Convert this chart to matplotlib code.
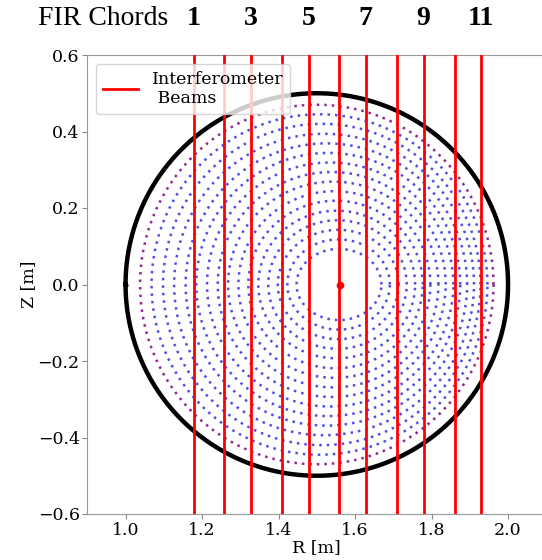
import numpy as np
import matplotlib.pyplot as plt
from matplotlib.transforms import blended_transform_factory

# chord positions [m] (11 FIR chords)
chord_R = [1.179, 1.257, 1.328, 1.410, 1.479, 1.559, 1.628, 1.710, 1.779, 1.861, 1.930]
chord_labels = ['1', '3', '5', '7', '9', '11']   # shown above every other chord

# vessel boundary (circle)
wall_R0, wall_Z0, wall_a = 1.50, 0.0, 0.50

# magnetic axis
axis_R, axis_Z = 1.56, 0.0

# flux surfaces: centre R, half width, half height (innermost -> outermost)
surf_R0 = [1.558, 1.557, 1.556, 1.554, 1.552, 1.549, 1.546, 1.543,
           1.539, 1.535, 1.530, 1.525, 1.519, 1.513, 1.507, 1.500]
surf_a = [0.111, 0.134, 0.158, 0.181, 0.205, 0.228, 0.251, 0.275,
          0.298, 0.322, 0.345, 0.368, 0.392, 0.415, 0.439, 0.462]
surf_b = [0.093, 0.118, 0.143, 0.168, 0.193, 0.219, 0.244, 0.269,
          0.294, 0.319, 0.344, 0.369, 0.394, 0.420, 0.445, 0.470]

plt.rcParams['font.family'] = 'DejaVu Serif'

fig = plt.figure(figsize=(5.42, 5.60), dpi=100)
ax = fig.add_axes([87.3 / 542, 46 / 560, 459 / 542, 459 / 560])

th = np.linspace(0, 2 * np.pi, 400)

# flux surfaces
for i in range(len(surf_R0)):
    col = 'purple' if i == len(surf_R0) - 1 else '#3030e0'
    ax.plot(surf_R0[i] + surf_a[i] * np.cos(th), surf_b[i] * np.sin(th),
            color=col, lw=1.8, ls=(0, (1, 2.0)), alpha=0.85, zorder=2)

# wall
ax.plot(wall_R0 + wall_a * np.cos(th + np.pi), wall_Z0 + wall_a * np.sin(th + np.pi),
        color='k', lw=3.2, zorder=3)
ax.plot(wall_R0 - wall_a, wall_Z0, 'k.', ms=4, zorder=3)

# chords
for i, r in enumerate(chord_R):
    ax.axvline(r, color='red', lw=2.0, zorder=4,
               label='Interferometer\n Beams' if i == 0 else None)

ax.plot(axis_R, axis_Z, 'o', color='red', ms=4.5, zorder=5)

ax.set_xlim(0.9, 2.1)
ax.set_ylim(-0.6, 0.6)
ax.set_xticks([1.0, 1.2, 1.4, 1.6, 1.8, 2.0])
ax.set_yticks([-0.6, -0.4, -0.2, 0.0, 0.2, 0.4, 0.6])
ax.tick_params(labelsize=12.5, color='#888888', length=3.5, pad=2)
for s in ax.spines.values():
    s.set_color('#999999')
ax.set_xlabel('R [m]', fontsize=12.5, labelpad=0)
ax.set_ylabel('Z [m]', fontsize=12.5, labelpad=0)

ax.legend(loc='upper left', fontsize=12.5, handlelength=2.0,
          borderaxespad=0.5, framealpha=0.8)

# chord numbers on top
trans = blended_transform_factory(ax.transData, fig.transFigure)
for lab, r in zip(chord_labels, chord_R[::2]):
    ax.text(r, 0.955, lab, transform=trans, ha='center', va='baseline',
            fontsize=20, fontweight='bold', family='Liberation Serif')
fig.text(38 / 542, 0.955, 'FIR Chords', ha='left', va='baseline',
         fontsize=20, family='Liberation Serif')

fig.savefig('out.png', dpi=100)
